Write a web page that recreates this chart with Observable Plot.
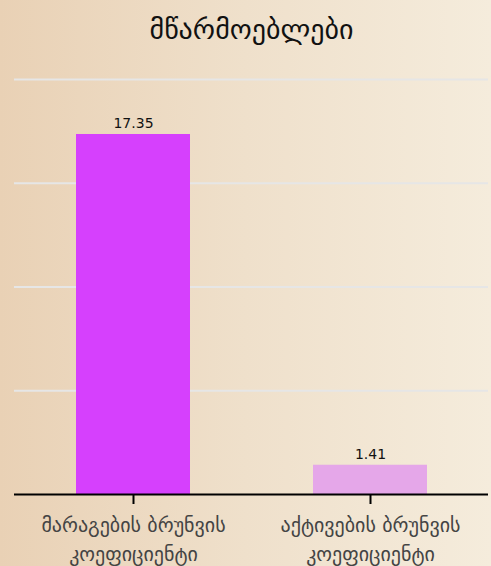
<!DOCTYPE html>
<html>
<head>
<meta charset="utf-8">
<script src="https://cdn.jsdelivr.net/npm/d3@7"></script>
<script src="https://cdn.jsdelivr.net/npm/@observablehq/plot@0.6"></script>
<style>
  html, body { margin: 0; padding: 0; }
  body {
    width: 491px; height: 566px; overflow: hidden;
    background: linear-gradient(to right, #e9d1b5 0%, #efe0cb 50%, #f5ecdc 100%);
    font-family: "DejaVu Sans", sans-serif;
  }
  #title {
    height: 62px; line-height: 60px; text-align: center;
    padding-left: 12px; box-sizing: border-box;
    font-size: 28px; color: #111;
  }
  svg { display: block; background: transparent !important; }
</style>
</head>
<body>
<div id="title">მწარმოებლები</div>
<div id="chart"></div>
<script>
const categories = ["მარაგების ბრუნვის კოეფიციენტი", "აქტივების ბრუნვის კოეფიციენტი"];
const tickLabels = ["მარაგების ბრუნვის\nკოეფიციენტი", "აქტივების ბრუნვის\nკოეფიციენტი"];
const values = [17.35, 1.41];
const colors = ["#d640fd", "#e5a7e9"];
const gridTicks = [5, 10, 15, 20];

const data = categories.map((c, i) => ({category: c, value: values[i], color: colors[i]}));

const chart = Plot.plot({
  width: 491,
  height: 504,
  marginTop: 17,
  marginBottom: 72,
  marginLeft: 14,
  marginRight: 3,
  style: {background: "transparent", fontFamily: "DejaVu Sans, sans-serif"},
  x: {domain: categories, paddingInner: 0.52, paddingOuter: 0.26},
  y: {domain: [0, 20], axis: null},
  marks: [
    Plot.ruleY(gridTicks, {stroke: "#e6e6e6", strokeWidth: 2}),
    Plot.barY(data, {x: "category", y: "value", fill: "color"}),
    Plot.text(data, {x: "category", y: "value", text: d => d.value.toFixed(2), dy: -6, lineAnchor: "bottom", fontSize: 14, fill: "#111"}),
    Plot.ruleY([0], {stroke: "black", strokeWidth: 2}),
    Plot.axisX({
      tickSize: 10, strokeWidth: 2, stroke: "black", fill: "#444",
      fontSize: 20, lineHeight: 1.45, tickPadding: 7,
      tickFormat: d => tickLabels[categories.indexOf(d)],
      label: null
    })
  ]
});
document.getElementById("chart").appendChild(chart);
</script>
</body>
</html>
